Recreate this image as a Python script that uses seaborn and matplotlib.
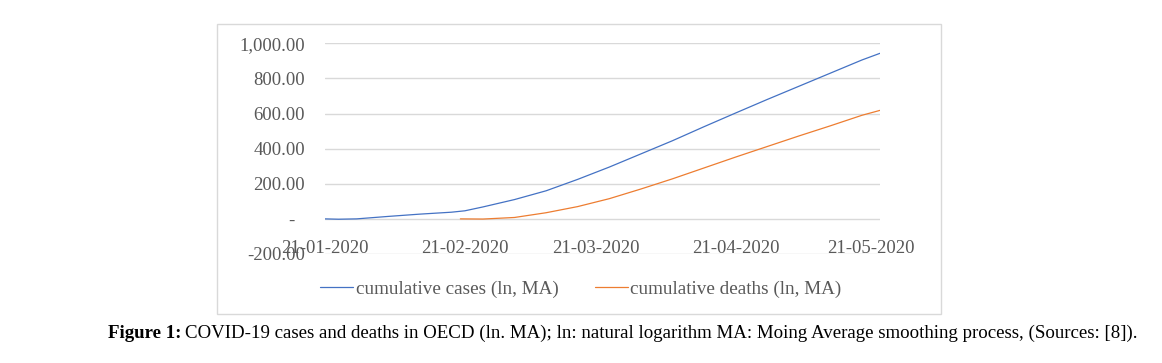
"""COVID-19 cases and deaths in OECD (ln, MA)."""

import matplotlib

matplotlib.use("Agg")

import matplotlib.pyplot as plt
import pandas as pd
import seaborn as sns
from matplotlib.patches import Rectangle
from matplotlib.ticker import FuncFormatter

# weekly readings from the reference picture
case_dates = ["2020-01-21", "2020-01-24", "2020-01-28", "2020-02-04", "2020-02-11", "2020-02-18",
              "2020-02-21", "2020-02-25", "2020-03-03", "2020-03-10", "2020-03-17", "2020-03-24",
              "2020-03-31", "2020-04-07", "2020-04-14", "2020-04-21", "2020-04-28", "2020-05-05",
              "2020-05-12", "2020-05-19", "2020-05-23"]
case_values = [0, -2, 0, 14, 27, 38, 46, 68, 110, 160, 225, 295,
               370, 445, 525, 603, 680, 755, 830, 905, 943]

death_dates = ["2020-02-20", "2020-02-25", "2020-03-03", "2020-03-10", "2020-03-17", "2020-03-24",
               "2020-03-31", "2020-04-07", "2020-04-14", "2020-04-21", "2020-04-28", "2020-05-05",
               "2020-05-12", "2020-05-19", "2020-05-23"]
death_values = [0, -1, 8, 35, 70, 115, 170, 228, 290, 352, 412, 472, 530, 590, 618]

tick_dates = ["2020-01-21", "2020-02-21", "2020-03-21", "2020-04-21", "2020-05-21"]
tick_labels = ["21-01-2020", "21-02-2020", "21-03-2020", "21-04-2020", "21-05-2020"]
y_ticks = [-200, 0, 200, 400, 600, 800, 1000]

BLUE = "#4472c4"
ORANGE = "#ed7d31"
GRID = "#d9d9d9"
TEXT = "#595959"

sns.set_style("white")
plt.rcParams["font.family"] = ["Liberation Serif", "DejaVu Serif"]

cases = pd.DataFrame({"date": pd.to_datetime(case_dates), "value": case_values})
deaths = pd.DataFrame({"date": pd.to_datetime(death_dates), "value": death_values})

fig = plt.figure(figsize=(11.62, 3.63), dpi=100)
ax = fig.add_axes([0.2797, 0.3003, 0.4776, 0.5804])

sns.lineplot(data=cases, x="date", y="value", color=BLUE, linewidth=0.9,
             label="cumulative cases (ln, MA)", ax=ax)
sns.lineplot(data=deaths, x="date", y="value", color=ORANGE, linewidth=0.9,
             label="cumulative deaths (ln, MA)", ax=ax)

ax.set_xlim(pd.Timestamp("2020-01-21"), pd.Timestamp("2020-05-23"))
ax.set_ylim(-200, 1000)
ax.set_yticks(y_ticks)


def money(v, _):
    if v == 0:
        return "-  "
    return f"{v:,.2f}"


ax.yaxis.set_major_formatter(FuncFormatter(money))
ax.set_xticks(pd.to_datetime(tick_dates))
ax.set_xticklabels(tick_labels)
ax.grid(axis="y", color=GRID, linewidth=1)
ax.set_axisbelow(True)
for s in ax.spines.values():
    s.set_visible(False)
ax.tick_params(axis="y", length=0, pad=14.4, labelsize=13.5, labelcolor=TEXT)
ax.tick_params(axis="x", length=0, pad=-10, labelsize=13.5, labelcolor=TEXT)
ax.set_xlabel("")
ax.set_ylabel("")

handles, labels = ax.get_legend_handles_labels()
ax.get_legend().remove()
fig.legend(handles, labels, loc="center", bbox_to_anchor=(0.5, 0.204), ncol=2, frameon=False,
           fontsize=13.8, handlelength=1.7, handletextpad=0.15, columnspacing=1.9,
           labelcolor=TEXT)

# chart frame
fig.patches.append(Rectangle((217 / 1162, 1 - 314 / 363), (941 - 217) / 1162, (314 - 24) / 363,
                             transform=fig.transFigure, fill=False, edgecolor=GRID, linewidth=1))

# caption: bold lead, regular rest
renderer = fig.canvas.get_renderer()
lead = fig.text(108 / 1162, 30 / 363, "Figure 1:", fontsize=13.6, fontweight="bold",
                va="center", ha="left", color="black")
bb = lead.get_window_extent(renderer)
fig.text((bb.x1 + 4) / 1162, 30 / 363,
         "COVID-19 cases and deaths in OECD (ln. MA); ln: natural logarithm MA: "
         "Moing Average smoothing process, (Sources: [8]).",
         fontsize=13.6, va="center", ha="left", color="black")

fig.savefig("out.png", dpi=100)
plt.close(fig)
